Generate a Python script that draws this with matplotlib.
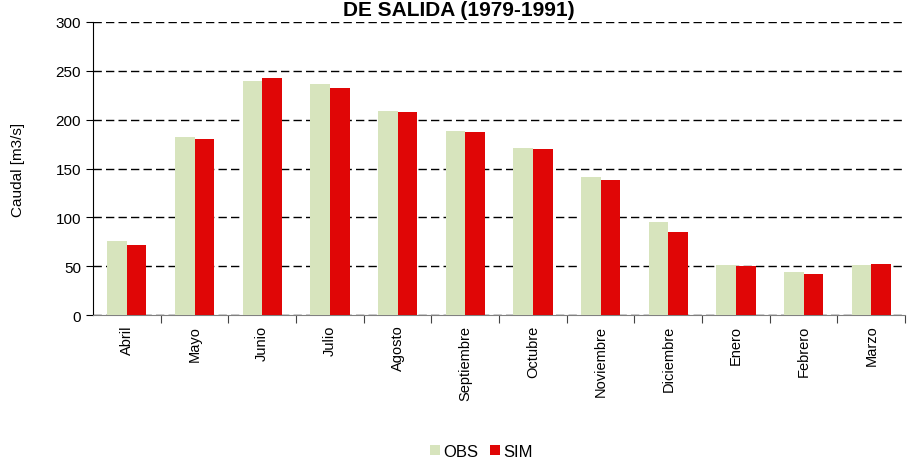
import matplotlib.pyplot as plt
import numpy as np

plt.rcParams['font.family'] = ['Liberation Sans', 'DejaVu Sans']

meses = ['Abril', 'Mayo', 'Junio', 'Julio', 'Agosto', 'Septiembre', 'Octubre',
         'Noviembre', 'Diciembre', 'Enero', 'Febrero', 'Marzo']
obs = [75.5, 182.5, 240, 236.5, 209, 188, 171, 141, 95, 51, 44, 51]
sim = [71.5, 180, 243, 232, 208, 187, 170, 138.5, 85.5, 50, 41.5, 52]
yticks = [0, 50, 100, 150, 200, 250, 300]


def generar_grafico():
    fig = plt.figure(figsize=(9.09, 4.6), dpi=100)
    ax = fig.add_axes([0.1023, 0.313, 0.8935, 0.637])

    x = np.arange(len(meses))
    ancho = 0.29
    ax.bar(x - ancho / 2, obs, ancho, color='#D7E4BD', label='OBS', zorder=3)
    ax.bar(x + ancho / 2, sim, ancho, color='#E00606', label='SIM', zorder=3)

    ax.set_xlim(-0.5, len(meses) - 0.5)
    ax.set_ylim(0, 300)
    ax.set_yticks(yticks)
    ax.tick_params(axis='y', labelsize=11, direction='out', length=5, width=0.8)
    ax.set_xticks(x)
    ax.set_xticklabels(meses, rotation=90, fontsize=10.5)
    ax.tick_params(axis='x', length=0, pad=7)
    ax.set_xticks(np.arange(len(meses)) + 0.5, minor=True)
    ax.tick_params(axis='x', which='minor', length=6, width=0.8, color='#444444')

    ax.yaxis.grid(True, color='black', linestyle=(0, (6, 3)), linewidth=1.0, zorder=0)
    ax.spines['top'].set_visible(False)
    ax.spines['right'].set_visible(False)
    ax.spines['bottom'].set_color('#808080')
    ax.spines['left'].set_linewidth(0.8)
    ax.set_ylabel('Caudal [m3/s]', fontsize=11, labelpad=22)

    # titulo pegado al borde superior, como en el original
    fig.text(0.505, 0.966, 'DE SALIDA (1979-1991)', ha='center', va='baseline',
             fontsize=15, fontweight='bold')

    fig.legend(loc='center', bbox_to_anchor=(0.53, 0.017), ncol=2, frameon=False,
               fontsize=12, handlelength=0.6, handleheight=0.6, handletextpad=0.2,
               columnspacing=0.7)

    fig.savefig('out.png', dpi=100)


if __name__ == '__main__':
    generar_grafico()
